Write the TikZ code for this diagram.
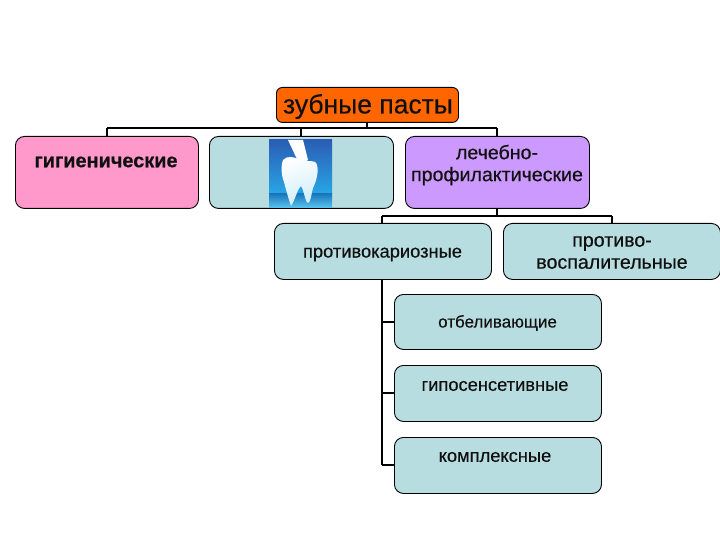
\documentclass[tikz,border=0pt]{standalone}
\usepackage{fontspec}
\setmainfont[FakeBold=0.4]{Liberation Sans}
\newfontfamily\strongfont[FakeBold=0.4]{Liberation Sans Bold}
\definecolor{boxteal}{HTML}{B8DDE0}
\definecolor{orangebox}{HTML}{FF6600}
\definecolor{pinkbox}{HTML}{FF99CC}
\definecolor{purplebox}{HTML}{CC99FF}
\definecolor{tootha}{HTML}{2A5DB4}
\definecolor{toothb}{HTML}{28A6E6}
\definecolor{toothc}{HTML}{1A78BC}
\definecolor{toothd}{HTML}{5CC4F0}
\definecolor{txt}{HTML}{101010}
\tikzset{
  card/.style={draw=black,line width=0.9pt,rounded corners=9pt,fill=boxteal,anchor=north west,inner sep=0pt,align=center,text=txt},
  conn/.style={draw=black,line width=2pt},
  label18/.style={text=txt,align=center,font=\fontsize{18.3}{22}\selectfont},
  label19/.style={text=txt,align=center,font=\fontsize{19.6}{22}\selectfont}
}
\newcommand{\cardat}[6]{%
  \node[card,minimum width=#4pt,minimum height=#5pt,#6] (#1) at (#2,#3) {};}
\begin{document}
\begin{tikzpicture}[x=1pt,y=-1pt]
\useasboundingbox (0,0) rectangle (720,540);
\coordinate (busL) at (107,128);
\coordinate (busR) at (497,128);
\coordinate (busT) at (367,128);
\coordinate (busM) at (301,128);
\coordinate (bus2L) at (382,216);
\coordinate (bus2R) at (612,216);
\coordinate (bus2T) at (497,216);
\coordinate (tr1) at (382,322);
\coordinate (tr2) at (382,393);
\coordinate (tr3) at (382,465);
\draw[conn] (busL) -- (busR);
\draw[conn] (bus2L) -- (bus2R);
\cardat{title}{276}{87}{182}{35}{fill=orangebox,rounded corners=6pt}
\cardat{hyg}{15}{136}{183}{72}{fill=pinkbox}
\cardat{mid}{209}{136}{184}{72}{}
\cardat{cure}{405}{136}{184}{72}{fill=purplebox}
\cardat{anticar}{274}{223}{217}{56}{}
\cardat{antiinf}{503}{223}{217}{56}{}
\cardat{white}{394}{294}{207}{55}{}
\cardat{hypo}{394}{365}{207}{56}{}
\cardat{compl}{394}{437}{207}{56}{}
\node[text=txt,font=\fontsize{26.5}{28}\selectfont] (titlet) at (368,106.5) {зубные пасты};
\node[text=txt,font=\fontsize{19.9}{22}\selectfont\strongfont] (hygt) at (106,162) {гигиенические};
\node[label19] (curet) at (497,165) {лечебно-\\профилактические};
\node[label18] (anticart) at (382.5,254.5) {противокариозные};
\node[label19] (antiinft) at (612,252.5) {противо-\\воспалительные};
\node[text=txt,font=\fontsize{17}{20}\selectfont] (whitet) at (497.5,323) {отбеливающие};
\node[label18] (hypot) at (495,386) {гипосенсетивные};
\node[label18] (complt) at (495,457) {комплексные};
\draw[conn] (hyg.north -| busL) -- (busL);
\draw[conn] (mid.north -| busM) -- (busM);
\draw[conn] (cure.north -| busR) -- (busR);
\draw[conn] (title.south -| busT) -- (busT);
\draw[conn] (cure.south -| bus2T) -- (bus2T);
\draw[conn] (anticar.north -| bus2L) -- (bus2L);
\draw[conn] (antiinf.north -| bus2R) -- (bus2R);
\draw[conn] (anticar.south -| tr1) -- (tr3);
\draw[conn] (tr1) -- (white.west |- tr1);
\draw[conn] (tr2) -- (hypo.west |- tr2);
\draw[conn] (tr3) -- (compl.west |- tr3);
% tooth picture
\shade[top color=tootha,bottom color=toothb] (269,140) rectangle (332,194);
\shade[top color=toothc,bottom color=toothd] (269,194) rectangle (332,208);
\fill[white] (288,140) -- (303,140) -- (308,160) -- (302,164) -- (296,157) -- cycle;
\shade[left color=white,right color=white!70!toothd,shading angle=20] (283,160) .. controls (287,155) and (295,157) .. (301,160) .. controls (307,163) and (315,158) .. (317,165) .. controls (319,172) and (316,182) .. (313,188) .. controls (311,195) and (311,202) .. (308,203) .. controls (305,202) and (304,190) .. (301,186) .. controls (297,190) and (295,200) .. (291,206) .. controls (289,200) and (286,190) .. (284,182) .. controls (281,175) and (281,165) .. (283,160) -- cycle;
\end{tikzpicture}
\end{document}
